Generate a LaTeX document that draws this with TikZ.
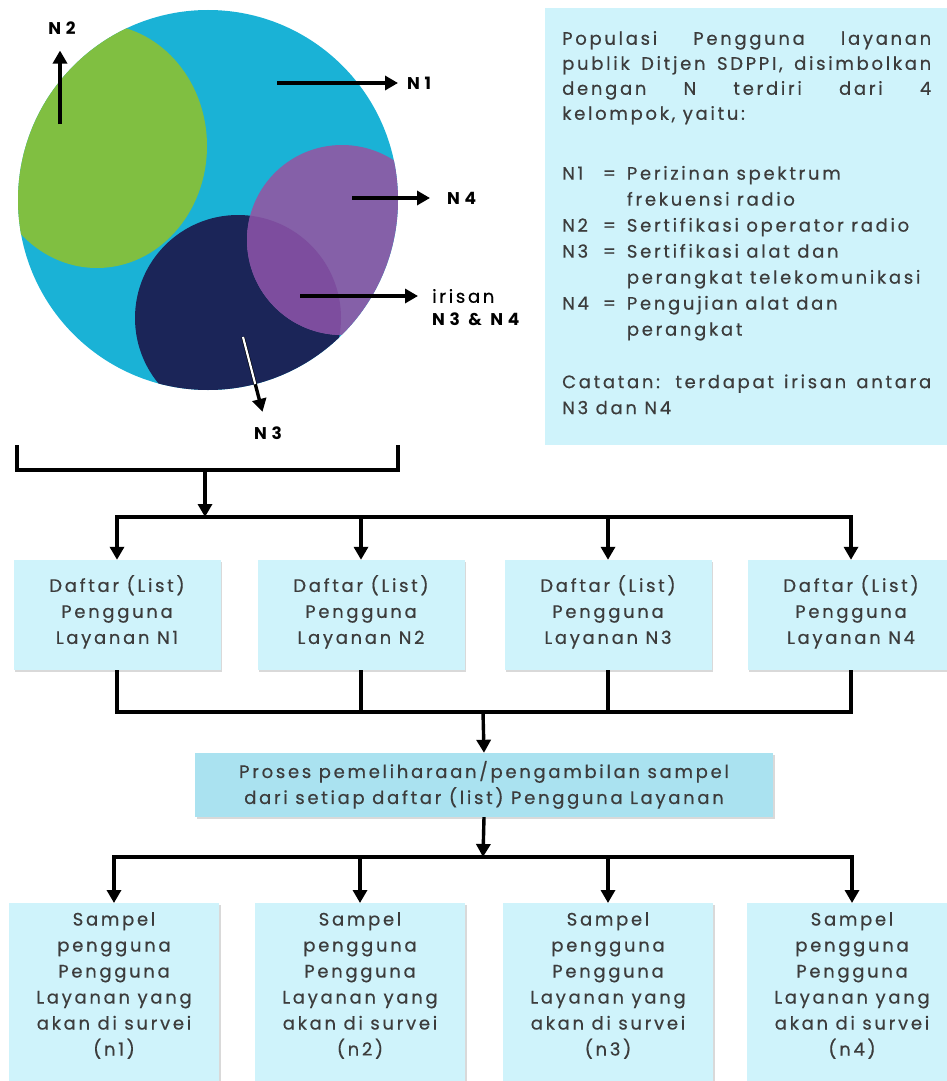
\documentclass[tikz,border=0pt]{standalone}
\usepackage{fontspec}
\setmainfont{Poppins}[LetterSpace=15, FakeBold=0.5]
\newfontfamily\tagfont{Poppins}[LetterSpace=28]
\usetikzlibrary{positioning,arrows.meta,shadows}

\definecolor{venncyan}{RGB}{26,178,214}
\definecolor{venngreen}{RGB}{128,191,65}
\definecolor{vennpurple}{RGB}{133,96,168}
\definecolor{vennnavy}{RGB}{27,37,88}
\definecolor{vennmix}{RGB}{125,77,158}
\definecolor{boxcyan}{RGB}{207,243,251}
\definecolor{proccyan}{RGB}{170,226,240}
\definecolor{txtgray}{RGB}{60,60,60}

\begin{document}
\begin{tikzpicture}[
    x=1pt, y=-1pt,
    font=\fontsize{18}{26}\selectfont,
    >={Triangle[length=13pt,width=14pt]},
    line/.style   ={line width=3.4pt},
    flow/.style   ={->, line width=3.4pt},
    listbox/.style={fill=boxcyan, text=txtgray, align=center, inner sep=4pt,
                    minimum width=207pt, minimum height=110pt, text depth=11pt,
                    drop shadow={shadow xshift=1.5pt, shadow yshift=-1.5pt, opacity=.3}},
    sampbox/.style={listbox, minimum width=210pt, minimum height=0pt,
                    inner ysep=9pt, text depth=40pt, anchor=north},
    procbox/.style={listbox, fill=proccyan, minimum width=578pt, minimum height=64pt,
                    text depth=5pt},
    info/.style   ={fill=boxcyan, text=txtgray, anchor=north west, align=justify,
                    text width=369pt, inner xsep=17pt, inner ysep=10pt,
                    minimum width=402pt, minimum height=437pt},
    tag/.style    ={font=\tagfont\bfseries\fontsize{17}{20}\selectfont, inner sep=0pt},
    tagplain/.style={inner sep=0pt},
]
\useasboundingbox (0,0) rectangle (947,1081);

% ============================================================
% VENN -- populasi N
% ============================================================
\fill[venncyan] (208,200) circle (190pt);
\begin{scope}
  \clip (208,200) circle (190pt);
  \fill[venngreen]  (97,146)  ellipse (110pt and 122pt);
  \fill[vennnavy]   (238,318) circle (103pt);
  \fill[vennpurple] (342,240) circle (95pt);
  \clip (238,318) circle (103pt);
  \fill[vennmix]    (342,240) circle (95pt);
\end{scope}

\coordinate (srcN1) at (277,83);
\coordinate (srcN2) at (60,124);
\coordinate (srcN3) at (243,337);
\coordinate (srcN4) at (352,198);
\coordinate (srcIr) at (300,296);

\node[tag, anchor=west] (tagN1) at (407,83)  {N1};
\node[tag]              (tagN2) at (62,28)   {N2};
\node[tag]              (tagN3) at (268,433) {N3};
\node[tag, anchor=west] (tagN4) at (447,198) {N4};
\node[tagplain, anchor=west] (tagIr) at (432,296) {irisan};
\node[tag, below=9pt of tagIr.south west, anchor=north west] (tagN34) {N3 \& N4};

\draw[flow, shorten >=9pt]  (srcN1) -- (tagN1);
\draw[flow, shorten >=16pt] (srcN2) -- (srcN2 |- tagN2.south);
\draw[flow, shorten >=17pt] (srcN4) -- (tagN4);
\draw[flow, shorten >=14pt] (srcIr) -- (tagIr);
\draw[flow, shorten >=15pt] (srcN3) -- (tagN3);
\begin{scope}
  \clip (208,200) circle (190pt);
  \draw[line width=2.2pt, white] (srcN3) -- (tagN3);
\end{scope}

% keterangan
\node[info] (info) at (545,8) {%
  \fontsize{18}{25}\selectfont
  Populasi Pengguna layanan\linebreak publik Ditjen SDPPI, disimbolkan\linebreak
  dengan N terdiri dari 4\linebreak kelompok, yaitu:\par\vspace{36pt}
  \fontsize{18}{26}\selectfont
  \begin{tabular}{@{}l@{\hspace{14pt}}c@{\hspace{11pt}}l@{}}
    N1 & = & Perizinan spektrum \\
       &   & frekuensi radio \\
    N2 & = & Sertifikasi operator radio \\
    N3 & = & Sertifikasi alat dan \\
       &   & perangkat telekomunikasi \\
    N4 & = & Pengujian alat dan \\
       &   & perangkat
  \end{tabular}\par\vspace{30pt}
  Catatan: terdapat irisan antara\linebreak N3 dan N4\par\kern8pt\hrule height 0pt};

% ============================================================
% ALUR -- daftar, proses, sampel
% ============================================================
\coordinate (brL)    at (17,445);
\coordinate (brR)    at (398,445);
\coordinate (brMid)  at (205,470);
\coordinate (split1) at (205,517);
\draw[line] (brL) |- (brMid) -| (brR);
\draw[flow] (brMid) -- (split1);

\foreach \i/\x in {1/117,2/361,3/608,4/851}
  \node[listbox] (list\i) at (\x,615) {Daftar (List)\\Pengguna\\Layanan N\i};
\foreach \i in {1,...,4}
  \draw[flow] (split1) -| (list\i.north);

\coordinate (join1) at (483,712);
\foreach \i in {1,...,4}
  \draw[line] (list\i.south) |- (join1);

\node[procbox] (proc) at (484,785)
  {Proses pemeliharaan/pengambilan sampel\\dari setiap daftar (list) Pengguna Layanan};
\draw[flow] (join1) -- (proc.north);

\coordinate (split2) at (483,857);
\draw[flow] (proc.south) -- (split2);

\foreach \i/\x in {1/114,2/360,3/608,4/852}
  \node[sampbox] (samp\i) at (\x,903)
    {Sampel\\pengguna\\Pengguna\\Layanan yang\\akan di survei\\(n\i)};
\foreach \i in {1,...,4}
  \draw[flow] (split2) -| (samp\i.north);

\end{tikzpicture}
\end{document}
